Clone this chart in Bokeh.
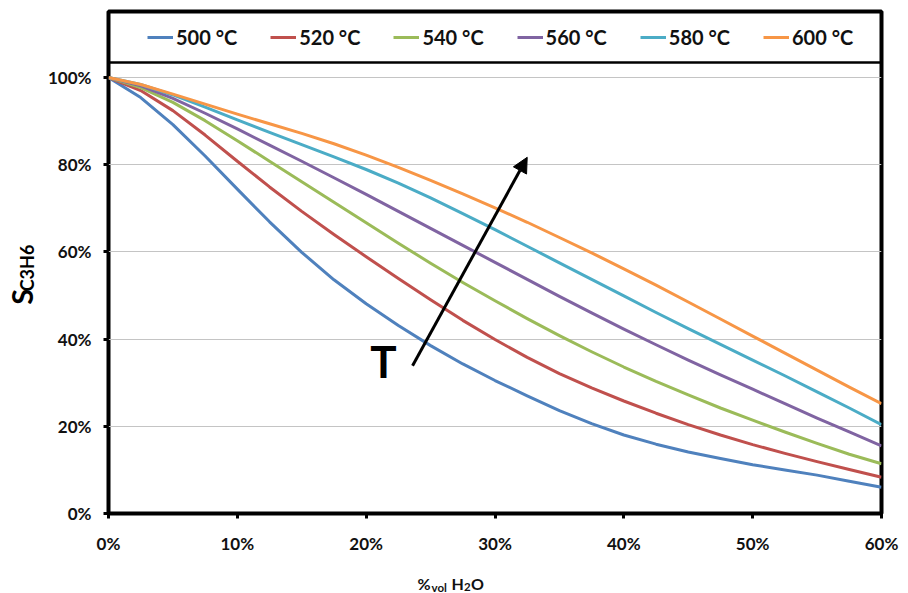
import math
from bokeh.plotting import figure
from bokeh.layouts import row, column
from bokeh.models import (Range1d, FixedTicker, NumeralTickFormatter, Span, Label,
                          Arrow, NormalHead, Legend)
from bokeh.embed import file_html
from bokeh.resources import INLINE

# ---------------- data (percent of selectivity vs. vol fraction of H2O) ----------------
h2o = [0.0, 0.025, 0.05, 0.075, 0.10, 0.125, 0.15, 0.175, 0.20, 0.225, 0.25, 0.275,
       0.30, 0.325, 0.35, 0.375, 0.40, 0.425, 0.45, 0.475, 0.50, 0.525, 0.55, 0.575, 0.60]

s_500 = [100, 95.4, 89.2, 82.0, 74.4, 66.9, 59.9, 53.6, 48.1, 43.1, 38.5, 34.3,
         30.5, 27.0, 23.6, 20.6, 18.0, 15.9, 14.1, 12.6, 11.2, 10.0, 8.8, 7.4, 6.0]
s_520 = [100, 97.0, 92.4, 86.8, 80.8, 74.9, 69.3, 64.0, 58.9, 53.9, 49.0, 44.3,
         39.9, 35.8, 32.1, 28.8, 25.8, 23.0, 20.4, 18.0, 15.8, 13.8, 11.9, 10.1, 8.3]
s_540 = [100, 97.7, 94.3, 90.1, 85.5, 80.8, 76.1, 71.4, 66.7, 62.0, 57.4, 53.0,
         48.8, 44.7, 40.8, 37.1, 33.6, 30.3, 27.2, 24.2, 21.4, 18.7, 16.1, 13.6, 11.4]
s_560 = [100, 98.1, 95.2, 91.8, 88.2, 84.5, 80.8, 77.0, 73.2, 69.3, 65.4, 61.5,
         57.6, 53.7, 49.8, 46.0, 42.3, 38.7, 35.2, 31.8, 28.5, 25.2, 21.9, 18.7, 15.5]
s_580 = [100, 98.4, 96.0, 93.2, 90.3, 87.4, 84.6, 81.8, 78.9, 75.8, 72.4, 68.8,
         65.1, 61.3, 57.5, 53.7, 49.9, 46.1, 42.4, 38.8, 35.2, 31.6, 27.9, 24.2, 20.4]
s_600 = [100, 98.4, 96.2, 93.9, 91.6, 89.4, 87.2, 84.8, 82.2, 79.4, 76.4, 73.3,
         70.1, 66.8, 63.3, 59.8, 56.1, 52.4, 48.5, 44.6, 40.7, 36.8, 32.9, 29.0, 25.2]

series_labels = ["500 °C", "520 °C", "540 °C", "560 °C", "580 °C", "600 °C"]
series_values = [s_500, s_520, s_540, s_560, s_580, s_600]
series_colors = ["#4F81BD", "#C0504D", "#9BBB59", "#8064A2", "#4BACC6", "#F79646"]

x_ticks = [0.0, 0.1, 0.2, 0.3, 0.4, 0.5, 0.6]
y_ticks = [0.0, 0.2, 0.4, 0.6, 0.8, 1.0]

FONT = "Lato"
TXT = "#111111"

# ---------------- main figure ----------------
p = figure(width=856, height=558, output_backend="svg", toolbar_location=None,
           x_range=Range1d(0, 0.6), y_range=Range1d(0, 1.1514),
           min_border_left=64, min_border_right=19, min_border_top=11, min_border_bottom=45)
p.background_fill_color = "white"
p.border_fill_color = "white"
p.outline_line_color = "black"
p.outline_line_width = 4

items = []
for lab, vals, col in zip(series_labels, series_values, series_colors):
    r = p.line(h2o, [v / 100.0 for v in vals], line_color=col, line_width=3,
               line_join="round")
    items.append((lab, [r]))

for ax in (p.xaxis[0], p.yaxis[0]):
    ax.axis_line_color = None
    ax.major_tick_line_color = "black"
    ax.major_tick_line_width = 3
    ax.major_tick_in = 0
    ax.major_tick_out = 5
    ax.minor_tick_line_color = None
    ax.major_label_text_font = FONT
    ax.major_label_text_font_style = "bold"
    ax.major_label_text_font_size = "17px"
    ax.major_label_text_color = TXT

p.xaxis.ticker = FixedTicker(ticks=x_ticks)
p.yaxis.ticker = FixedTicker(ticks=y_ticks)
p.xaxis.formatter = NumeralTickFormatter(format="0%")
p.yaxis.formatter = NumeralTickFormatter(format="0%")
p.xaxis.major_label_standoff = 14
p.yaxis.major_label_standoff = 12

p.xgrid.visible = False
p.ygrid.grid_line_color = "#c4c4c4"
p.ygrid.grid_line_width = 1

# separator between legend band and plot area
p.add_layout(Span(location=1.0344, dimension="width", line_color="black", line_width=2.5))

legend = Legend(items=items, orientation="horizontal", location=(39, 464),
                padding=0, margin=0, spacing=33, glyph_width=26, glyph_height=24,
                label_height=24, label_standoff=3, border_line_color=None,
                background_fill_alpha=0,
                label_text_font=FONT, label_text_font_style="bold",
                label_text_font_size="20px", label_text_color=TXT)
p.add_layout(legend)

# arrow and "T"
p.add_layout(Arrow(end=NormalHead(size=15, fill_color="black", line_color="black"),
                   x_start=0.236, y_start=0.339, x_end=0.325, y_end=0.817,
                   line_color="black", line_width=3))
p.add_layout(Label(x=0.2135, y=0.349, text="T", text_font=FONT, text_font_style="bold",
                   text_font_size="44px", text_align="center", text_baseline="middle",
                   text_color="black"))

# ---------------- left strip: y axis title S_C3H6 ----------------
left = figure(width=44, height=558, output_backend="svg", toolbar_location=None,
              x_range=Range1d(0, 44), y_range=Range1d(0, 558),
              x_axis_type=None, y_axis_type=None, min_border=0)
left.outline_line_color = None
left.grid.visible = False
left.add_layout(Label(x=21, y=241, text="S", angle=math.pi / 2, text_font=FONT,
                      text_font_style="bold", text_font_size="29px", text_align="center",
                      text_baseline="middle", text_color="black"))
left.add_layout(Label(x=26, y=247, text="C3H6", angle=math.pi / 2, text_font=FONT,
                      text_font_style="bold", text_font_size="18px", text_align="left",
                      text_baseline="middle", text_color="black"))

# ---------------- bottom strip: x axis title %vol H2O ----------------
bottom = figure(width=900, height=34, output_backend="svg", toolbar_location=None,
                x_range=Range1d(0, 900), y_range=Range1d(0, 34),
                x_axis_type=None, y_axis_type=None, min_border=0)
bottom.outline_line_color = None
bottom.grid.visible = False
xlab_parts = [("%", 417, 9.5, "16px"), ("vol", 431, 5.5, "11.5px"),
              ("H", 451, 9.5, "16px"), ("2", 463.5, 5.5, "11.5px"),
              ("O", 470.5, 9.5, "16px")]
for t, xx, yy, fs in xlab_parts:
    bottom.add_layout(Label(x=xx, y=yy, text=t, text_font=FONT, text_font_style="bold",
                            text_font_size=fs, text_align="left", text_baseline="middle",
                            text_color=TXT))

layout = column(row(left, p), bottom)
open("out.html", "w").write(file_html(layout, INLINE))
